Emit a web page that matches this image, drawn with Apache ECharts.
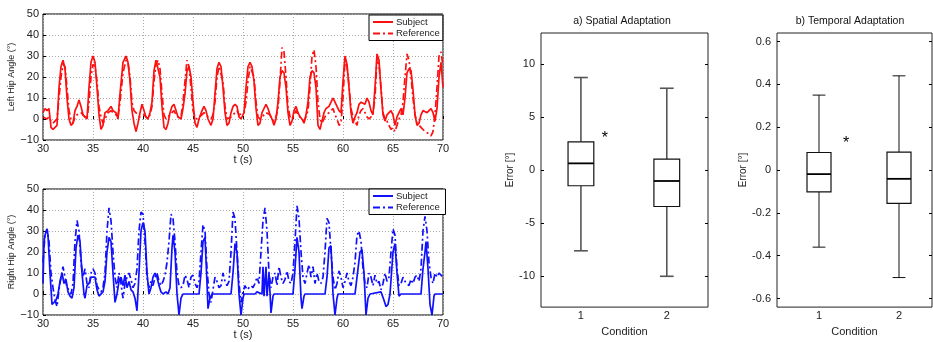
<!DOCTYPE html>
<html>
<head>
<meta charset="utf-8">
<script src="https://cdn.jsdelivr.net/npm/echarts@6/dist/echarts.min.js"></script>
<style>
  html, body { margin: 0; padding: 0; background: #fff; }
  #chart { width: 933px; height: 342px; }
</style>
</head>
<body>
<div id="chart"></div>
<script>
// [t (s), angle (deg)]
const leftSubject = [[30.0,3],[30.2,5],[30.4,4],[30.6,5],[30.8,-4],[31.0,-5],[31.2,-5],[31.4,-3],[31.6,15],[31.8,25],[32.0,28],[32.2,24],[32.4,10],[32.6,0],[32.8,-3],[33.0,-2],[33.2,4],[33.4,6],[33.6,9],[33.8,6],[34.0,2],[34.2,2],[34.4,0],[34.6,15],[34.8,27],[35.0,30],[35.2,27],[35.4,15],[35.6,2],[35.8,-5],[36.0,-3],[36.2,3],[36.5,4],[36.8,6],[37.0,4],[37.3,3],[37.5,0],[37.7,12],[38.0,27],[38.3,30],[38.5,27],[38.7,18],[38.9,4],[39.1,-2],[39.3,-6],[39.5,-2],[39.7,3],[39.9,7],[40.1,4],[40.3,1],[40.5,0],[40.7,3],[40.9,8],[41.1,23],[41.3,28],[41.5,28],[41.7,20],[41.9,6],[42.1,-4],[42.3,-5],[42.5,-2],[42.7,3],[42.9,6],[43.1,7],[43.3,4],[43.5,1],[43.8,0],[44.0,5],[44.2,12],[44.4,23],[44.6,25],[44.8,20],[45.0,8],[45.2,-2],[45.4,-4],[45.6,0],[45.9,4],[46.1,6],[46.3,4],[46.5,0],[46.8,-3],[47.0,0],[47.2,12],[47.4,24],[47.6,27],[47.8,25],[48.0,15],[48.2,3],[48.4,-3],[48.6,-2],[48.8,3],[49.0,6],[49.2,7],[49.4,6],[49.6,1],[49.8,0],[50.1,3],[50.3,15],[50.5,25],[50.7,27],[50.9,25],[51.1,18],[51.3,5],[51.5,-3],[51.7,-2],[51.9,3],[52.1,5],[52.3,7],[52.5,5],[52.7,2],[52.9,0],[53.1,-3],[53.3,0],[53.5,8],[53.7,20],[53.9,23],[54.1,22],[54.3,15],[54.5,3],[54.7,-3],[54.9,-1],[55.1,4],[55.3,6],[55.5,3],[55.7,1],[55.9,0],[56.1,-2],[56.3,2],[56.5,8],[56.7,20],[56.9,23],[57.1,22],[57.3,15],[57.5,-3],[57.7,-5],[57.9,-1],[58.1,3],[58.3,5],[58.6,6],[58.8,8],[59.0,10],[59.2,8],[59.4,6],[59.6,4],[59.8,3],[60.0,18],[60.2,30],[60.4,26],[60.6,15],[60.8,3],[61.0,-2],[61.2,1],[61.4,3],[61.6,7],[61.8,8],[62.0,8],[62.2,7],[62.4,10],[62.6,8],[62.8,4],[63.0,2],[63.2,15],[63.4,31],[63.6,28],[63.8,14],[64.0,2],[64.2,-1],[64.4,2],[64.6,3],[64.8,4],[65.0,2],[65.2,-3],[65.4,1],[65.6,3],[65.8,5],[66.0,2],[66.2,10],[66.4,22],[66.6,24],[66.8,23],[67.0,14],[67.2,2],[67.4,-3],[67.6,-2],[67.8,2],[68.0,4],[68.2,4],[68.4,3],[68.6,4],[68.8,5],[69.0,3],[69.2,-1],[69.4,5],[69.6,20],[69.8,27],[70.0,15]];

const leftReference = [[30.0,1],[30.2,1],[30.4,0],[30.6,1],[30.8,-1],[31.0,-2],[31.2,-1],[31.4,0],[31.6,10],[31.8,20],[32.0,26],[32.2,25],[32.4,15],[32.6,4],[32.8,0],[33.0,-2],[33.2,1],[33.4,2],[33.6,2],[33.8,3],[34.0,2],[34.2,1],[34.4,0],[34.6,8],[34.8,20],[35.0,26],[35.2,25],[35.4,18],[35.6,6],[35.8,1],[36.0,-2],[36.2,0],[36.5,3],[36.8,4],[37.0,3],[37.3,2],[37.5,1],[37.7,8],[38.0,22],[38.3,28],[38.5,27],[38.7,20],[38.9,8],[39.1,4],[39.3,4],[39.5,2],[39.7,1],[39.9,1],[40.1,2],[40.3,1],[40.5,0],[40.7,2],[40.9,6],[41.1,18],[41.3,26],[41.5,28],[41.7,24],[41.9,12],[42.1,2],[42.3,0],[42.5,1],[42.7,2],[42.9,3],[43.1,4],[43.3,2],[43.5,1],[43.8,1],[44.0,8],[44.2,18],[44.4,28],[44.6,25],[44.8,15],[45.0,4],[45.2,1],[45.4,0],[45.6,1],[45.9,2],[46.1,3],[46.3,2],[46.5,1],[46.8,0],[47.0,2],[47.2,8],[47.4,20],[47.6,25],[47.8,25],[48.0,18],[48.2,6],[48.4,0],[48.6,0],[48.8,1],[49.0,2],[49.2,3],[49.4,4],[49.6,2],[49.8,2],[50.1,3],[50.3,8],[50.5,18],[50.7,25],[50.9,25],[51.1,20],[51.3,8],[51.5,1],[51.7,0],[51.9,1],[52.1,2],[52.3,3],[52.5,3],[52.7,2],[52.9,0],[53.1,-1],[53.3,1],[53.5,5],[53.7,18],[53.9,34],[54.1,32],[54.3,20],[54.5,6],[54.7,1],[54.9,0],[55.1,2],[55.3,4],[55.5,2],[55.7,1],[55.9,0],[56.1,-1],[56.3,1],[56.5,4],[56.7,15],[56.9,30],[57.1,33],[57.3,25],[57.5,8],[57.7,0],[57.9,-2],[58.1,0],[58.3,2],[58.6,3],[58.8,4],[59.0,5],[59.2,2],[59.4,0],[59.6,-3],[59.8,-2],[60.0,10],[60.2,28],[60.4,25],[60.6,16],[60.8,5],[61.0,1],[61.2,-1],[61.4,-3],[61.6,2],[61.8,4],[62.0,5],[62.2,3],[62.4,1],[62.6,0],[62.8,1],[63.0,3],[63.2,10],[63.4,29],[63.6,26],[63.8,15],[64.0,3],[64.2,0],[64.4,-1],[64.6,-3],[64.8,-5],[65.0,-4],[65.2,-6],[65.4,-3],[65.6,0],[65.8,2],[66.0,8],[66.2,20],[66.4,31],[66.6,28],[66.8,20],[67.0,10],[67.2,2],[67.4,-2],[67.6,-3],[67.8,-4],[68.0,-5],[68.2,-6],[68.4,-6],[68.6,-7],[68.8,-8],[69.0,-6],[69.2,2],[69.4,15],[69.6,30],[69.8,32],[70.0,25]];

const rightSubject = [[30.0,5],[30.1,25],[30.2,28],[30.4,31],[30.5,28],[30.7,10],[30.9,-5],[31.1,-5],[31.3,-3],[31.5,0],[31.7,6],[31.9,10],[32.1,5],[32.3,7],[32.5,1],[32.7,-1],[32.9,-2],[33.1,3],[33.3,22],[33.5,28],[33.7,25],[33.9,10],[34.1,0],[34.2,-2],[34.4,4],[34.6,5],[34.8,8],[35.0,8],[35.2,8],[35.4,2],[35.6,-1],[35.8,-1],[36.0,1],[36.2,6],[36.4,20],[36.6,27],[36.8,25],[37.0,10],[37.2,-4],[37.4,0],[37.6,6],[37.8,8],[38.0,4],[38.2,9],[38.4,3],[38.6,6],[38.8,2],[39.0,1],[39.2,-2],[39.4,-8],[39.6,10],[39.8,30],[40.0,34],[40.2,30],[40.4,10],[40.6,0],[40.8,3],[41.0,8],[41.2,10],[41.4,8],[41.6,4],[41.8,1],[42.0,0],[42.3,1],[42.5,0],[42.7,3],[42.9,22],[43.0,28],[43.2,20],[43.4,0],[43.6,-10],[43.8,-2],[44.0,0],[45.6,0],[45.8,10],[46.0,25],[46.2,27],[46.4,5],[46.5,-7],[46.7,-2],[46.9,0],[48.8,0],[49.0,10],[49.2,24],[49.4,20],[49.6,0],[49.8,-10],[50.0,-2],[50.1,0],[51.2,0],[51.4,1],[51.9,0],[52.0,13],[52.1,-1],[52.3,13],[52.4,-1],[52.6,10],[52.8,-9],[53.0,-1],[53.1,0],[55.0,0],[55.2,12],[55.4,27],[55.6,20],[55.8,-2],[55.9,-7],[56.1,-1],[56.2,0],[58.2,0],[58.4,8],[58.6,22],[58.8,23],[59.0,0],[59.2,-10],[59.4,-2],[59.5,0],[61.2,0],[61.5,12],[61.7,20],[61.9,21],[62.1,10],[62.3,-10],[62.5,-2],[62.7,0],[63.8,1],[64.1,-3],[64.3,-6],[64.5,-5],[64.7,0],[65.0,20],[65.2,24],[65.4,10],[65.6,-1],[65.8,0],[67.8,0],[68.0,12],[68.2,20],[68.3,25],[68.5,12],[68.7,-5],[68.9,-10],[69.1,-1],[69.2,0],[70.0,0]];

const rightReference = [[30.0,15],[30.2,28],[30.4,31],[30.6,25],[30.8,10],[31.0,3],[31.2,-3],[31.4,-6],[31.6,2],[31.8,8],[32.0,13],[32.2,8],[32.4,3],[32.6,2],[32.8,0],[33.0,5],[33.2,25],[33.4,35],[33.6,30],[33.8,15],[34.0,8],[34.2,12],[34.4,5],[34.6,3],[34.8,10],[35.0,12],[35.2,10],[35.4,4],[35.6,2],[35.8,1],[36.0,3],[36.2,10],[36.4,30],[36.6,41],[36.8,35],[37.0,20],[37.2,8],[37.4,3],[37.6,10],[37.8,5],[38.0,-2],[38.2,5],[38.4,8],[38.6,10],[38.8,7],[39.0,3],[39.2,5],[39.4,12],[39.6,30],[39.8,39],[40.0,38],[40.2,25],[40.4,8],[40.6,3],[40.8,6],[41.0,4],[41.2,8],[41.4,10],[41.6,6],[41.8,4],[42.0,6],[42.2,9],[42.4,15],[42.6,25],[42.8,38],[43.0,36],[43.2,25],[43.4,10],[43.6,4],[43.8,3],[44.0,4],[44.2,9],[44.4,7],[44.6,3],[44.8,8],[45.0,9],[45.2,5],[45.4,3],[45.6,6],[45.8,20],[46.0,33],[46.2,30],[46.4,12],[46.6,0],[46.8,-4],[47.0,2],[47.2,8],[47.4,6],[47.6,3],[47.8,4],[48.0,10],[48.2,6],[48.4,4],[48.6,6],[48.8,20],[49.0,39],[49.2,36],[49.4,20],[49.6,5],[49.8,-4],[50.0,1],[50.2,4],[50.4,2],[50.6,3],[50.8,4],[51.0,3],[51.2,5],[51.4,8],[51.6,5],[51.8,20],[52.0,35],[52.2,41],[52.4,30],[52.6,10],[52.8,3],[53.0,8],[53.2,10],[53.4,4],[53.6,13],[53.8,8],[54.0,5],[54.2,7],[54.4,11],[54.6,6],[54.8,5],[55.0,10],[55.2,25],[55.4,42],[55.6,36],[55.8,20],[56.0,8],[56.2,5],[56.4,10],[56.6,14],[56.8,8],[57.0,13],[57.2,5],[57.4,10],[57.6,6],[57.8,5],[58.0,8],[58.2,20],[58.4,36],[58.6,34],[58.8,20],[59.0,8],[59.2,2],[59.4,5],[59.6,11],[59.8,8],[60.0,3],[60.2,6],[60.4,10],[60.6,6],[60.8,4],[61.0,8],[61.2,15],[61.4,28],[61.6,30],[61.8,25],[62.0,12],[62.2,5],[62.4,3],[62.6,10],[62.8,8],[63.0,4],[63.2,9],[63.4,5],[63.6,6],[63.8,2],[64.0,5],[64.2,10],[64.4,6],[64.6,8],[64.8,20],[65.0,31],[65.2,28],[65.4,12],[65.6,4],[65.8,5],[66.0,8],[66.2,6],[66.4,6],[66.6,4],[66.8,7],[67.0,5],[67.2,8],[67.4,9],[67.6,6],[67.8,12],[68.0,30],[68.2,37],[68.4,30],[68.6,15],[68.8,8],[69.0,5],[69.2,10],[69.4,8],[69.6,10],[69.8,9],[70.0,8]];

// box plots: [lower whisker, Q1, median, Q3, upper whisker] per condition
const conditions = [1, 2];
const spatialStats = [[-7.6, -1.48, 0.63, 2.66, 8.71], [-10.0, -3.43, -1.03, 1.02, 7.7]];
const temporalStats = [[-0.36, -0.102, -0.019, 0.082, 0.35], [-0.502, -0.156, -0.041, 0.084, 0.44]];
const spatialStar = [1.28, 3.34];
const temporalStar = [1.34, 0.141];

const spatialTicks = [-10, -5, 0, 5, 10];
const temporalTicks = [-0.6, -0.4, -0.2, 0, 0.2, 0.4, 0.6];

const font = '"Liberation Sans", Arial, sans-serif';
const dashDot = [7, 3, 2, 3];

function timeXAxis(gridIndex, nameGap) {
  return {
    type: 'value', gridIndex, min: 30, max: 70, interval: 5,
    name: 't (s)', nameLocation: 'middle', nameGap,
    nameTextStyle: { fontSize: 11, color: '#222', fontFamily: font },
    axisLine: { show: false },
    axisTick: { inside: true, length: 3, lineStyle: { color: '#000' } },
    axisLabel: { margin: 3, fontSize: 11, color: '#222', fontFamily: font },
    splitLine: { show: true, lineStyle: { color: '#aaa', type: [1, 2] } }
  };
}

function angleYAxis(gridIndex, name) {
  return {
    type: 'value', gridIndex, min: -10, max: 50, interval: 10,
    name, nameLocation: 'middle', nameGap: 23,
    nameTextStyle: { fontSize: 9, color: '#222', fontFamily: font },
    axisLine: { show: false },
    axisTick: { inside: true, length: 3, lineStyle: { color: '#000' } },
    axisLabel: { margin: 4, fontSize: 11, color: '#222', fontFamily: font,
      formatter: v => (v < 0 ? '\u2212' + Math.abs(v) : '' + v) },
    splitLine: { show: true, lineStyle: { color: '#aaa', type: [1, 2] } }
  };
}

function boxXAxis(gridIndex, min, max, nameGap, top) {
  return {
    type: 'value', gridIndex, min, max, position: top ? 'top' : 'bottom',
    name: top ? '' : 'Condition', nameLocation: 'middle', nameGap,
    nameTextStyle: { fontSize: 11, color: '#222', fontFamily: font },
    axisLine: { show: false },
    axisTick: { inside: true, length: 3, customValues: conditions, lineStyle: { color: '#000' } },
    axisLabel: { show: !top, margin: 3, fontSize: 11, color: '#222', fontFamily: font, customValues: conditions },
    splitLine: { show: false }
  };
}

function boxYAxis(gridIndex, lim, ticks, nameGap, right) {
  return {
    type: 'value', gridIndex, min: -lim, max: lim, position: right ? 'right' : 'left',
    name: right ? '' : 'Error [\u00b0]', nameLocation: 'middle', nameGap,
    nameTextStyle: { fontSize: 10, color: '#222', fontFamily: font },
    axisLine: { show: false },
    axisTick: { inside: true, length: 3, customValues: ticks, lineStyle: { color: '#000' } },
    axisLabel: { show: !right, margin: 6, fontSize: 11, color: '#222', fontFamily: font, customValues: ticks },
    splitLine: { show: false }
  };
}

function boxSeries(xAxisIndex, yAxisIndex, stats, color, width) {
  return {
    type: 'custom', xAxisIndex, yAxisIndex,
    encode: { x: 0, y: [1, 2, 3, 4, 5] },
    data: stats.map((s, i) => [conditions[i]].concat(s)),
    renderItem(params, api) {
      const x = api.value(0);
      const lo = api.coord([x, api.value(1)]);
      const q1 = api.coord([x, api.value(2)]);
      const md = api.coord([x, api.value(3)]);
      const q3 = api.coord([x, api.value(4)]);
      const hi = api.coord([x, api.value(5)]);
      const hw = api.size([0.15, 0])[0];
      const cw = api.size([0.08, 0])[0];
      const st = { stroke: color, lineWidth: width, fill: null };
      const cx = lo[0];
      return {
        type: 'group',
        children: [
          { type: 'line', shape: { x1: cx, y1: hi[1], x2: cx, y2: q3[1] }, style: st },
          { type: 'line', shape: { x1: cx, y1: q1[1], x2: cx, y2: lo[1] }, style: st },
          { type: 'line', shape: { x1: cx - cw, y1: hi[1], x2: cx + cw, y2: hi[1] }, style: st },
          { type: 'line', shape: { x1: cx - cw, y1: lo[1], x2: cx + cw, y2: lo[1] }, style: st },
          { type: 'rect', shape: { x: cx - hw, y: q3[1], width: 2 * hw, height: q1[1] - q3[1] },
            style: { stroke: '#111', lineWidth: 1.2, fill: '#fff' } },
          { type: 'line', shape: { x1: cx - hw, y1: md[1], x2: cx + hw, y2: md[1] },
            style: { stroke: '#000', lineWidth: 1.8 } }
        ]
      };
    }
  };
}

function starSeries(xAxisIndex, yAxisIndex, point) {
  return {
    type: 'custom', xAxisIndex, yAxisIndex,
    encode: { x: 0, y: 1 },
    data: [point],
    renderItem(params, api) {
      const p = api.coord([api.value(0), api.value(1)]);
      return {
        type: 'text', x: p[0], y: p[1] + 4,
        style: { text: '*', fontSize: 16, fontFamily: font, fill: '#000',
          textAlign: 'center', textVerticalAlign: 'middle' }
      };
    }
  };
}

function lineSeries(name, xAxisIndex, yAxisIndex, data, color, type) {
  return {
    name, type: 'line', xAxisIndex, yAxisIndex, data,
    symbol: 'none', showSymbol: false,
    lineStyle: { color, width: 1.7, type },
    itemStyle: { color }
  };
}

function legendBox(top, names) {
  return {
    data: names, orient: 'vertical', left: 369, top,
    itemWidth: 20, itemHeight: 10, itemGap: 1.5,
    itemStyle: { opacity: 0 },
    padding: [2, 3, 2, 3],
    borderColor: '#000', borderWidth: 1, backgroundColor: '#fff',
    textStyle: { fontSize: 9.5, color: '#222', fontFamily: font, padding: [0, 0, 0, -2] }
  };
}

const chart = echarts.init(document.getElementById('chart'));
chart.setOption({
  animation: false,
  backgroundColor: '#fff',
  textStyle: { fontFamily: font },
  grid: [
    { left: 43, top: 14, width: 400, height: 126, show: true, borderColor: '#000', borderWidth: 1 },
    { left: 43, top: 189, width: 400, height: 126, show: true, borderColor: '#000', borderWidth: 1 },
    { left: 541, top: 33, width: 167, height: 287, show: true, borderColor: '#222', borderWidth: 1 },
    { left: 777, top: 33, width: 155, height: 287, show: true, borderColor: '#222', borderWidth: 1 }
  ],
  legend: [
    legendBox(15, ['Subject', 'Reference']),
    legendBox(189, ['Subject ', 'Reference '])
  ],
  xAxis: [
    timeXAxis(0, 13),
    timeXAxis(1, 12),
    boxXAxis(2, 0.535, 2.48, 14, false),
    boxXAxis(3, 0.475, 2.4125, 13, false),
    boxXAxis(2, 0.535, 2.48, 0, true),
    boxXAxis(3, 0.475, 2.4125, 0, true)
  ],
  yAxis: [
    angleYAxis(0, 'Left Hip Angle (\u00b0)'),
    angleYAxis(1, 'Right Hip Angle (\u00b0)'),
    boxYAxis(2, 12.9, spatialTicks, 24, false),
    boxYAxis(3, 0.64, temporalTicks, 29, false),
    boxYAxis(2, 12.9, spatialTicks, 0, true),
    boxYAxis(3, 0.64, temporalTicks, 0, true)
  ],
  graphic: [
    { type: 'text', x: 622, y: 21, style: { text: 'a) Spatial Adaptation', fontSize: 10.5,
      fontFamily: font, fill: '#111', textAlign: 'center', textVerticalAlign: 'middle' } },
    { type: 'text', x: 850, y: 21, style: { text: 'b) Temporal Adaptation', fontSize: 10.5,
      fontFamily: font, fill: '#111', textAlign: 'center', textVerticalAlign: 'middle' } }
  ],
  series: [
    lineSeries('Reference', 0, 0, leftReference, '#ff1010', dashDot),
    lineSeries('Subject', 0, 0, leftSubject, '#ff1010', 'solid'),
    lineSeries('Reference ', 1, 1, rightReference, '#1010ff', dashDot),
    lineSeries('Subject ', 1, 1, rightSubject, '#1010ff', 'solid'),
    boxSeries(2, 2, spatialStats, '#555', 1.6),
    boxSeries(3, 3, temporalStats, '#111', 1),
    starSeries(2, 2, spatialStar),
    starSeries(3, 3, temporalStar)
  ]
});
</script>
</body>
</html>
